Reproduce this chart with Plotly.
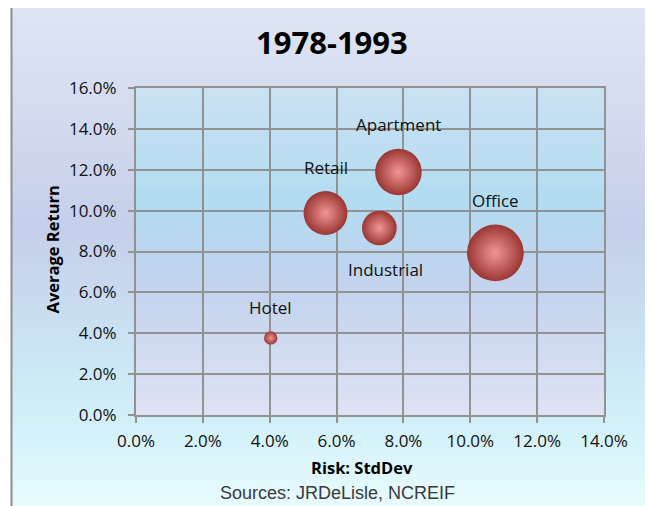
import numpy as np
import plotly.graph_objects as go

# ---------------- data ----------------
categories = ["Hotel", "Retail", "Industrial", "Apartment", "Office"]
risk_stddev = [0.0403, 0.0567, 0.0728, 0.0785, 0.1075]       # x: Risk (StdDev)
average_return = [0.0377, 0.0988, 0.0915, 0.1189, 0.0793]    # y: Average Return
bubble_size = [2.2, 24.0, 15.0, 27.0, 40.0]                  # relative bubble size
x_tick_values = [0.0, 0.02, 0.04, 0.06, 0.08, 0.10, 0.12, 0.14]
y_tick_values = [0.0, 0.02, 0.04, 0.06, 0.08, 0.10, 0.12, 0.14, 0.16]

# ---------------- styling ----------------
W, H = 653, 506
OFF = 8                                  # page body margin of the html page
L, R, T, B = 136, 604, 88, 415          # plot area in (window) pixels
MAX_DIAM = 56.7
label_below = {"Industrial": True}
label_xshift = {"Industrial": 6}

def px_x(p):
    return (p - L) / (R - L)

def px_y(p):
    return (B - p) / (B - T)

def hex2rgb(h):
    h = h.lstrip("#")
    return [int(h[i:i + 2], 16) for i in (0, 2, 4)]

def interp(stops, f):
    for (f0, c0), (f1, c1) in zip(stops[:-1], stops[1:]):
        if f0 <= f <= f1:
            t = 0 if f1 == f0 else (f - f0) / (f1 - f0)
            a, b = hex2rgb(c0), hex2rgb(c1)
            return "rgb(%d,%d,%d)" % tuple(round(a[i] + (b[i] - a[i]) * t) for i in range(3))
    return stops[-1][1]

def bands(x0, x1, y0, y1, stops, n=80):
    out = []
    step = (y1 - y0) / n
    for i in range(n):
        ya = y0 + i * step
        yb = ya + step + 0.8
        col = interp(stops, (i + 0.5) / n)
        out.append(dict(type="rect", xref="paper", yref="paper", layer="below",
                        x0=px_x(x0), x1=px_x(x1), y0=px_y(min(yb, y1)), y1=px_y(ya),
                        fillcolor=col, line=dict(width=0)))
    return out

outer_stops = [(0.0, "#dfe6f4"), (0.45, "#c6cfea"), (0.7, "#cbe6f5"),
               (0.85, "#d4f2fa"), (1.0, "#e9fcfe")]
plot_stops = [(0.0, "#cae1f2"), (0.35, "#b2dcf1"), (0.6, "#c3d3ee"), (1.0, "#dee2f3")]

shapes = []
shapes += bands(12, W + 4, 3, H + 4, outer_stops, 90)
shapes += bands(L, R, T, B, plot_stops, 70)
# chart frame (left + top borders)
shapes.append(dict(type="line", xref="paper", yref="paper", layer="below",
                   x0=px_x(11.5), x1=px_x(11.5), y0=px_y(2.5), y1=px_y(H + 4),
                   line=dict(color="#8e8e8e", width=2)))
shapes.append(dict(type="line", xref="paper", yref="paper", layer="below",
                   x0=px_x(11.5), x1=px_x(W + 4), y0=px_y(2.5), y1=px_y(2.5),
                   line=dict(color="#8e8e8e", width=2)))

sizes = np.array(bubble_size, dtype=float)
diam = MAX_DIAM * np.sqrt(sizes / sizes.max())

fig = go.Figure()
fig.add_trace(go.Scatter(
    x=risk_stddev, y=average_return, mode="markers",
    marker=dict(size=diam, sizemode="diameter", color="#9a3634", opacity=1,
                gradient=dict(type="radial", color="#f29693"),
                line=dict(width=0)),
    hovertext=categories, showlegend=False, cliponaxis=False,
))

annotations = []
for cat, xv, yv, d in zip(categories, risk_stddev, average_return, diam):
    off = d / 2 + 24
    annotations.append(dict(
        x=xv, y=yv, xref="x", yref="y", text=cat, showarrow=False,
        xanchor="center", yanchor="middle",
        yshift=-off if label_below.get(cat) else off,
        xshift=label_xshift.get(cat, 0),
        font=dict(family="Open Sans", size=17, color="#111111")))

def paper_text(text, x, y, size, family="Open Sans", color="#000000", angle=0):
    return dict(text=text, x=px_x(x), y=px_y(y), xref="paper", yref="paper",
                xanchor="center", yanchor="middle", textangle=angle, showarrow=False,
                font=dict(family=family, size=size, color=color))

annotations.append(paper_text("<b>1978-1993</b>", 332, 42, 31))
annotations.append(paper_text("<b>Risk: StdDev</b>", 362, 467, 16.5))
annotations.append(paper_text("<b>Average Return</b>", 51.5, 250, 16.5, angle=-90))
annotations.append(paper_text("Sources: JRDeLisle, NCREIF", 337, 493, 18,
                              family="Liberation Sans", color="#3a3a3a"))

axis_common = dict(showgrid=True, gridcolor="#929292", gridwidth=2,
                   showline=True, linecolor="#929292", linewidth=2, mirror=True,
                   ticks="outside", ticklen=6, tickcolor="#929292", tickwidth=1.5,
                   zeroline=False, tickformat=".1%",
                   tickfont=dict(family="Open Sans", size=17, color="#111111"))

fig.update_layout(
    width=W, height=H,
    margin=dict(l=L - OFF, r=W - (R - OFF), t=T - OFF, b=H - (B - OFF), pad=0),
    paper_bgcolor="#ffffff", plot_bgcolor="rgba(0,0,0,0)",
    xaxis=dict(range=[0, 0.14], tickvals=x_tick_values, ticklabelstandoff=4, **axis_common),
    yaxis=dict(range=[0, 0.16], tickvals=y_tick_values, ticklabelstandoff=8, **axis_common),
    shapes=shapes, annotations=annotations,
)

fig.write_html("out.html")
